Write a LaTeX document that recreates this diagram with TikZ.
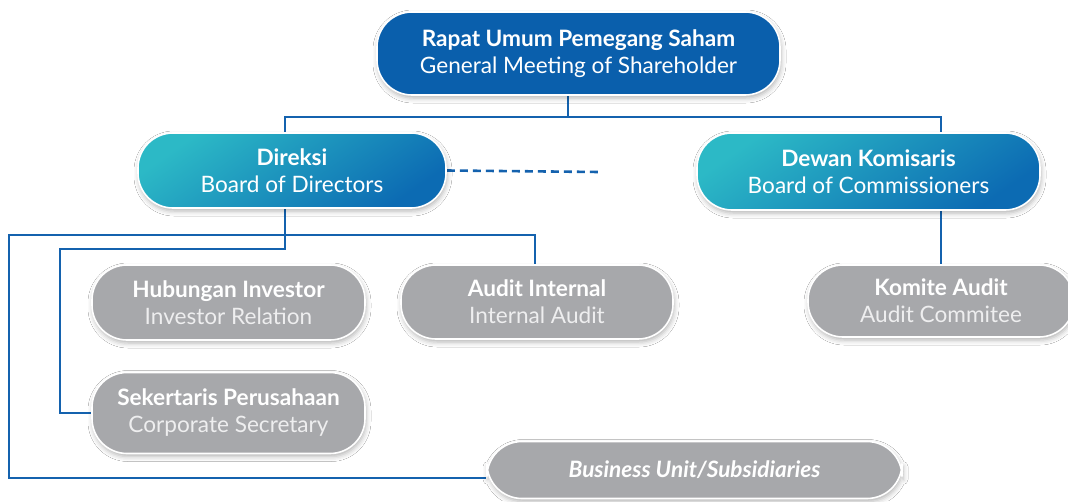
\documentclass[tikz,border=0pt]{standalone}
\usepackage{fontspec}
\setmainfont{Lato}
\usetikzlibrary{shadows.blur,calc,backgrounds}
\definecolor{rupsblue}{HTML}{0A5FAC}
\definecolor{tealA}{HTML}{2CB9C6}
\definecolor{blueB}{HTML}{0C6BB3}
\definecolor{greyN}{HTML}{A7A8AB}
\definecolor{lineblue}{HTML}{1462AE}
\definecolor{subgrey}{HTML}{EEEEEF}
\tikzset{
  box/.style={draw=white, line width=1.6pt, rounded corners=35pt, align=center,
    inner sep=0pt, text=white, font=\fontsize{22.6}{27}\selectfont,
    blur shadow={shadow xshift=1pt, shadow yshift=-3pt, shadow blur radius=5pt, shadow opacity=30}},
  topbox/.style={box, fill=rupsblue},
  tealbox/.style={box, top color=tealA, bottom color=blueB, shading angle=35},
  greybox/.style={box, fill=greyN},
  conn/.style={draw=lineblue, line width=2.8pt},
  dashconn/.style={conn, line width=2.6pt, dash pattern=on 8pt off 5pt},
}
\newcommand{\bt}[1]{\textbf{#1}}
\newcommand{\gt}[1]{\textcolor{subgrey}{#1}}
\begin{document}
\begin{tikzpicture}[x=1pt,y=-1pt]
\useasboundingbox (0,0) rectangle (1068,501);
% nodes
\node[topbox, minimum width=403pt, minimum height=83pt] (rups) at (578.5,53.5)
  {\bt{Rapat Umum Pemegang Saham}\\General Meeting of Shareholder};
\node[tealbox, minimum width=308pt, minimum height=75pt] (dir) at (292,170.5)
  {\bt{Direksi}\\Board of Directors};
\node[tealbox, minimum width=343pt, minimum height=77pt] (dk) at (868.5,171.5)
  {\bt{Dewan Komisaris}\\Board of Commissioners};
\node[greybox, minimum width=273pt, minimum height=75pt] (hi) at (228.5,302.5)
  {\bt{Hubungan Investor}\\\gt{Investor Relation}};
\node[greybox, minimum width=272pt, minimum height=74pt] (ai) at (537,302)
  {\bt{Audit Internal}\\\gt{Internal Audit}};
\node[greybox, minimum width=273pt, minimum height=81pt] (sek) at (228.5,413)
  {\bt{Sekertaris Perusahaan}\\\gt{Corporate Secretary}};
\node[greybox, minimum width=266pt, minimum height=72pt] (ka) at (941,301)
  {\bt{Komite Audit}\\\gt{Audit Commitee}};
\node[greybox, minimum width=415pt, minimum height=57pt] (bu) at (694.5,470)
  {\bfseries\itshape Business Unit/Subsidiaries};
% junction coordinates
\coordinate (bus1) at (568,117);
\coordinate (jL) at (285,117);
\coordinate (jR) at (941,117);
\coordinate (b1) at (285,235);
\coordinate (b2) at (285,249);
\coordinate (c60) at (60,249);
\coordinate (c9) at (9,235);
\coordinate (aiX) at (535,235);
\coordinate (dashend) at (600,172);
\begin{pgfonlayer}{background}
\fill[white] (0,0) rectangle (1068,501);
\draw[conn] (rups.south -| bus1) -- (bus1);
\draw[conn] (dir.north -| jL) -- (jL) -- (jR) -- (dk.north -| jR);
\draw[conn] (dir.south -| b1) -- (b2) -- (c60) |- (sek.west);
\draw[conn] (ai.north -| aiX) -- (aiX) -- (c9) |- ($(bu.west)+(0,8)$);
\draw[conn] (dk.south -| ka.north) -- (ka.north);
\draw[dashconn] (dir.east) -- (dashend);
\end{pgfonlayer}
\end{tikzpicture}
\end{document}
